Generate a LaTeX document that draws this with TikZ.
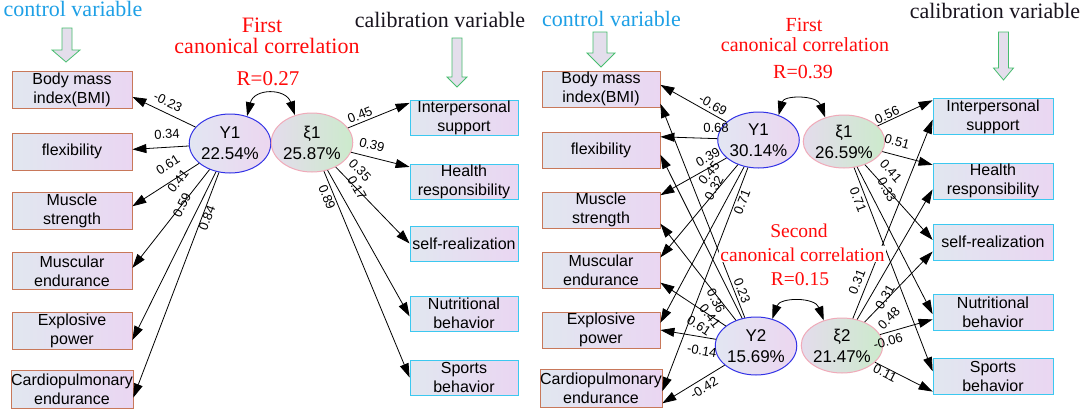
\documentclass[tikz,border=0pt]{standalone}
\usepackage{fontspec}
\setmainfont{Liberation Serif}
\newfontfamily\arialf{Liberation Sans}
\usetikzlibrary{arrows.meta,shapes.geometric}
\definecolor{ctlblue}{RGB}{30,160,230}
\definecolor{calblack}{RGB}{25,20,30}
\definecolor{redtxtc}{RGB}{255,10,10}
\definecolor{boxbrown}{RGB}{200,120,90}
\definecolor{boxcyan}{RGB}{60,200,240}
\definecolor{boxl}{RGB}{225,231,240}
\definecolor{boxr}{RGB}{234,214,242}
\definecolor{yblue}{RGB}{50,50,230}
\definecolor{yl}{RGB}{226,230,242}
\definecolor{yr}{RGB}{236,214,240}
\definecolor{xpink}{RGB}{240,170,185}
\definecolor{xl}{RGB}{228,220,236}
\definecolor{xr}{RGB}{204,234,204}
\definecolor{agreen}{RGB}{70,190,110}
\definecolor{afill}{RGB}{228,222,236}
\begin{document}
\begin{tikzpicture}[x=1pt,y=-1pt,
  arr/.style={draw=black, line width=0.8pt, -{Triangle[length=14pt,width=9pt]}},
  dbl/.style={draw=black, line width=0.8pt, {Triangle[length=14pt,width=9pt]}-{Triangle[length=14pt,width=9pt]}},
  boxbase/.style={rectangle, line width=0.8pt, left color=boxl, right color=boxr, inner sep=0pt, align=center, font=\arialf\fontsize{16}{19}\selectfont},
  lbox/.style={boxbase, draw=boxbrown, minimum width=120pt, minimum height=37pt},
  lboxr/.style={boxbase, draw=boxbrown, minimum width=118pt, minimum height=36pt},
  rbox/.style={boxbase, draw=boxcyan, minimum width=108pt, minimum height=35pt},
  rboxr/.style={boxbase, draw=boxcyan, minimum width=120pt, minimum height=36pt},
  yell/.style={ellipse, draw=yblue, line width=1pt, left color=yl, right color=yr, inner sep=0pt, align=center, font=\arialf\fontsize{17}{21}\selectfont},
  xell/.style={ellipse, draw=xpink, line width=1pt, left color=xl, right color=xr, inner sep=0pt, align=center, font=\arialf\fontsize{17}{21}\selectfont},
  lbl/.style={font=\arialf\fontsize{13}{13}\selectfont, inner sep=0pt},
  hdr/.style={font=\fontsize{22}{22}\selectfont, anchor=base, inner sep=0pt},
  redtxt/.style={text=redtxtc, anchor=base, inner sep=0pt},
  hollow/.style={draw=agreen, fill=afill, line width=0.8pt}
]
\useasboundingbox[fill=white] (0,0) rectangle (1084,410);

% ---------------- LEFT PANEL ----------------
\node[hdr, text=ctlblue] (cvL) at (73,16.5) {control variable};
\node[hdr, text=calblack] (clL) at (440,27.5) {calibration variable};
\draw[hollow] (62,28) -- (72,28) -- (72,50) -- (80,50) -- (66,62) -- (52,50) -- (62,50) -- cycle;
\draw[hollow] (452,38) -- (462,38) -- (462,77) -- (467,77) -- (457,87) -- (447,77) -- (452,77) -- cycle;

\node[redtxt, font=\fontsize{22}{22}\selectfont] (fL1) at (262,32.5) {First};
\node[redtxt, font=\fontsize{22}{22}\selectfont] (fL2) at (267,53) {canonical correlation};
\node[redtxt, font=\fontsize{21}{21}\selectfont] (fL3) at (268,85) {R=0.27};

\node[lbox] (bmiL) at (72,89.5) {Body mass\\index(BMI)};
\node[lbox] (flexL) at (72,151.5) {flexibility};
\node[lbox] (msL) at (72,210.5) {Muscle\\strength};
\node[lbox] (meL) at (72,271) {Muscular\\endurance};
\node[lbox] (epL) at (72,330.5) {Explosive\\power};
\node[lbox, minimum height=38pt] (cpL) at (72,389) {Cardiopulmonary\\endurance};

\node[rbox] (ipL) at (464,117.5) {Interpersonal\\support};
\node[rbox] (hrL) at (464,181.5) {Health\\responsibility};
\node[rbox] (srL) at (464,243.5) {self-realization};
\node[rbox] (nbL) at (464,313.5) {Nutritional\\behavior};
\node[rbox] (sbL) at (464,377.5) {Sports\\behavior};

\node[yell, minimum width=74pt, minimum height=59pt] (Y1L) at (230,143.5) {Y1\\22.54\%};
\node[xell, minimum width=74pt, minimum height=59pt] (X1L) at (312,142.5) {ξ1\\25.87\%};

\draw[dbl] (Y1L.58) .. controls (254,88) and (286,88) .. (X1L.122);

\draw[arr] (Y1L) -- (bmiL.-7);
\draw[arr] (Y1L) -- (flexL.2.4);
\draw[arr] (Y1L) -- (msL.4.3);
\draw[arr] (Y1L) -- (meL.3.8);
\draw[arr] (Y1L) -- (epL.-9);
\draw[arr] (Y1L) -- (cpL.-8.5);
\draw[arr] (X1L) -- (ipL.165);
\draw[arr] (X1L) -- (hrL.165);
\draw[arr] (X1L) -- (srL.180);
\draw[arr] (X1L) -- (nbL.183.7);
\draw[arr] (X1L) -- (sbL.180.5);

\node[lbl, rotate=-25.6] (a1) at (168,102) {-0.23};
\node[lbl, rotate=3] (a2) at (167,134) {0.34};
\node[lbl, rotate=33] (a3) at (168,165) {0.61};
\node[lbl, rotate=52] (a4) at (178,181) {0.41};
\node[lbl, rotate=64] (a5) at (182,205) {0.59};
\node[lbl, rotate=69] (a6) at (207,218) {0.84};
\node[lbl, rotate=22] (b1) at (360,115) {0.45};
\node[lbl, rotate=-14] (b2) at (372,145) {0.39};
\node[lbl, rotate=-45.7] (b3) at (360,170) {0.35};
\node[lbl, rotate=-60.7] (b4) at (357,188) {0.17};
\node[lbl, rotate=-67.4] (b5) at (327,197) {0.89};

% ---------------- RIGHT PANEL ----------------
\node[hdr, text=ctlblue] (cvR) at (611.5,26.5) {control variable};
\node[hdr, text=calblack] (clR) at (995,18) {calibration variable};
\draw[hollow] (593,32) -- (607,32) -- (607,53) -- (615,53) -- (601,67) -- (587,53) -- (593,53) -- cycle;
\draw[hollow] (998.5,32) -- (1008.5,32) -- (1008.5,68) -- (1013.5,68) -- (1003.5,80) -- (993.5,68) -- (998.5,68) -- cycle;

\node[redtxt, font=\fontsize{20}{20}\selectfont] (fR1) at (804,31.5) {First};
\node[redtxt, font=\fontsize{20}{20}\selectfont] (fR2) at (805,51.5) {canonical correlation};
\node[redtxt, font=\fontsize{20}{20}\selectfont] (fR3) at (803,78) {R=0.39};

\node[lboxr] (bmiR) at (601,89) {Body mass\\index(BMI)};
\node[lboxr] (flexR) at (601,150.5) {flexibility};
\node[lboxr] (msR) at (601,210) {Muscle\\strength};
\node[lboxr] (meR) at (601,270) {Muscular\\endurance};
\node[lboxr] (epR) at (601,330) {Explosive\\power};
\node[lboxr, minimum height=38pt] (cpR) at (601,388) {Cardiopulmonary\\endurance};

\node[rboxr] (ipR) at (993,116.5) {Interpersonal\\support};
\node[rboxr] (hrR) at (993,181) {Health\\responsibility};
\node[rboxr] (srR) at (993,242) {self-realization};
\node[rboxr] (nbR) at (993,312) {Nutritional\\behavior};
\node[rboxr] (sbR) at (993,376.5) {Sports\\behavior};

\node[yell, minimum width=73pt, minimum height=56pt] (Y1R) at (758.5,140) {Y1\\30.14\%};
\node[xell, minimum width=72pt, minimum height=53pt] (X1R) at (844,141.5) {ξ1\\26.59\%};
\node[yell, minimum width=72pt, minimum height=58pt] (Y2R) at (756,346) {Y2\\15.69\%};
\node[xell, minimum width=70pt, minimum height=55pt] (X2R) at (842,345.5) {ξ2\\21.47\%};

\draw[dbl] (Y1R.51) .. controls (784,95) and (817,95) .. (X1R.128);
\draw[dbl] (Y2R.59) .. controls (780,297) and (815,297) .. (X2R.126);

\draw[arr] (Y1R) -- (bmiR.4.8);
\draw[arr] (Y1R) -- (flexR.13.8);
\draw[arr] (Y1R) -- (msR.14.3);
\draw[arr] (Y1R) -- (meR.12.4);
\draw[arr] (Y1R) -- (epR.7.7);
\draw[arr] (Y1R) -- (cpR.-3.9);
\draw[arr] (Y2R) -- (bmiR.-14.3);
\draw[arr] (Y2R) -- (flexR.-4.4);
\draw[arr] (Y2R) -- (msR.-13.3);
\draw[arr] (Y2R) -- (meR.-12.4);
\draw[arr] (Y2R) -- (epR.0);
\draw[arr] (Y2R) -- (cpR.-14.3);
\draw[arr] (X1R) -- (ipR.165.5);
\draw[arr] (X1R) -- (hrR.165.9);
\draw[arr] (X1R) -- (srR.178);
\draw[arr] (X1R) -- (nbR.182);
\draw[arr] (X1R) -- (sbR.175.7);
\draw[arr] (X2R) -- (ipR.183.3);
\draw[arr] (X2R) -- (hrR.188.5);
\draw[arr] (X2R) -- (srR.189.5);
\draw[arr] (X2R) -- (nbR.187.6);
\draw[arr] (X2R) -- (sbR.194.5);

\node[redtxt, font=\fontsize{19.5}{19.5}\selectfont] (sR1) at (799,237) {Second};
\node[redtxt, font=\fontsize{19.5}{19.5}\selectfont, fill=white, inner sep=1pt] (sR2) at (802.5,261) {canonical correlation};
\node[redtxt, font=\fontsize{19.5}{19.5}\selectfont] (sR3) at (800,285) {R=0.15};

\node[lbl, rotate=-29.7] (c1) at (713,105) {-0.69};
\node[lbl, rotate=2.3] (c2) at (716,128) {0.68};
\node[lbl, rotate=29.3] (c3) at (708,157) {0.39};
\node[lbl, rotate=50] (c4) at (709,173) {0.45};
\node[lbl, rotate=61.7] (c5) at (714,188) {0.32};
\node[lbl, rotate=68.7] (c6) at (742,202) {0.71};
\node[lbl, rotate=-68.8] (d1) at (742,291) {0.23};
\node[lbl, rotate=-63.3] (d2) at (716,301) {0.36};
\node[lbl, rotate=-51.8] (d3) at (710,316) {0.41};
\node[lbl, rotate=-33.3] (d4) at (699,326) {0.61};
\node[lbl, rotate=-9.5] (d5) at (702,351) {-0.14};
\node[lbl, rotate=30.7] (d6) at (704,388) {-0.42};
\node[lbl, rotate=24.5] (e1) at (887,115) {0.56};
\node[lbl, rotate=-15.4] (e2) at (897,142) {0.51};
\node[lbl, rotate=-47.9] (e3) at (891,171) {0.41};
\node[lbl, rotate=-62.7] (e4) at (887,190) {0.33};
\node[lbl, rotate=-68.9] (e5) at (858,200) {0.71};
\node[lbl, rotate=68.2] (f1) at (857,282) {0.31};
\node[lbl, rotate=59.7] (f2) at (885,297) {0.31};
\node[lbl, rotate=45.8] (f3) at (889,318) {0.48};
\node[lbl, rotate=15.6] (f4) at (888,341) {-0.06};
\node[lbl, rotate=-27] (f5) at (885,373) {0.11};
\end{tikzpicture}
\end{document}
